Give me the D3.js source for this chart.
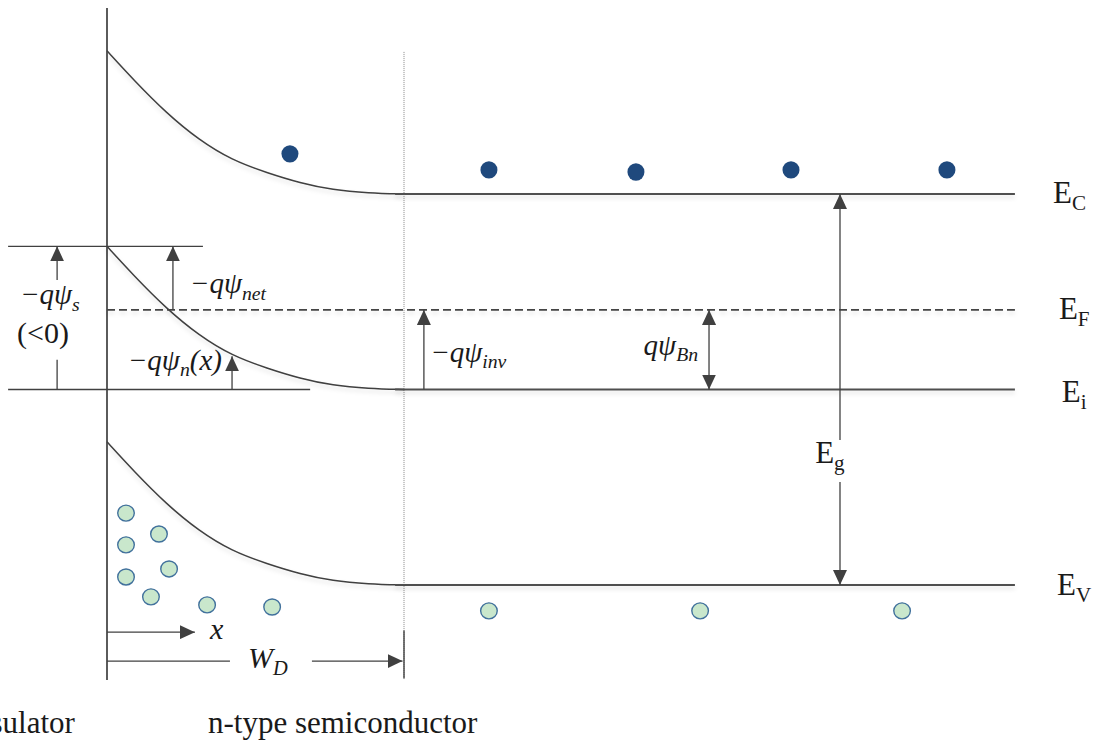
<!DOCTYPE html>
<html>
<head>
<meta charset="utf-8">
<script src="https://cdn.jsdelivr.net/npm/d3@7"></script>
<style>
  body { margin: 0; background: #fff; }
  svg { display: block; }
</style>
</head>
<body>
<script>
// energies in eV (Ev = 0), positions in units of the depletion width W_D (interface = 0)
var levelNames = ['E', 'E', 'E', 'E'],
    levelSubs = ['C', 'F', 'i', 'V'],
    levelEnergy = [1.12, 0.788, 0.56, 0],
    bending = 0.41

// band bending: depth vs fraction of the surface bending
var profileX = [0, 0.09, 0.2, 0.31, 0.42, 0.54, 0.65, 0.76, 0.88, 1.0],
    profileFrac = [1, 0.796, 0.565, 0.377, 0.237, 0.147, 0.077, 0.028, 0.007, 0]

var electronsX = [0.616, 1.286, 1.781, 2.303, 2.828],
    electronsE = [1.235, 1.189, 1.183, 1.189, 1.189]

var holesX = [0.064, 0.175, 0.064, 0.209, 0.064, 0.148, 0.337, 0.556, 1.286, 1.997, 2.677],
    holesE = [0.206, 0.146, 0.115, 0.046, 0.023, -0.034, -0.057, -0.063, -0.074, -0.074, -0.074]

var bulkEnd = 3.057,
    leftEnd = -0.333

var width = 1095, height = 742,
    ink = '#404040',
    font = "'Liberation Serif', 'Times New Roman', serif"

var x = d3.scaleLinear().domain([0, 1]).range([107, 404]),
    y = d3.scaleLinear().domain([0, 1.12]).range([585, 194])

var svg = d3.select('body').append('svg')
    .attr('width', width)
    .attr('height', height)

var defs = svg.append('defs')
defs.append('filter').attr('id', 'shadow')
    .attr('filterUnits', 'userSpaceOnUse')
    .attr('x', 0).attr('y', 0).attr('width', width).attr('height', height)
    .append('feDropShadow')
    .attr('dx', 0).attr('dy', 3).attr('stdDeviation', 2)
    .attr('flood-color', '#000').attr('flood-opacity', 0.13)

defs.append('marker').attr('id', 'head')
    .attr('viewBox', '0 0 15 14')
    .attr('refX', 15).attr('refY', 7)
    .attr('markerWidth', 15).attr('markerHeight', 14)
    .attr('markerUnits', 'userSpaceOnUse')
    .attr('orient', 'auto-start-reverse')
    .append('path').attr('d', 'M0,0L15,7L0,14Z').attr('fill', ink)

var line = d3.line().x(d => x(d[0])).y(d => y(d[1])).curve(d3.curveBasis)

// interface and depletion edge
svg.append('line')
    .attr('x1', x(0)).attr('x2', x(0))
    .attr('y1', y(1.653)).attr('y2', y(-0.272))
    .attr('stroke', '#333').attr('stroke-width', 1.6)

svg.append('line')
    .attr('x1', x(1)).attr('x2', x(1))
    .attr('y1', y(1.527)).attr('y2', y(-0.272))
    .attr('stroke', '#888').attr('stroke-width', 1).attr('stroke-dasharray', '1,1')

svg.append('line')
    .attr('x1', x(1)).attr('x2', x(1))
    .attr('y1', y(-0.13)).attr('y2', y(-0.267))
    .attr('stroke', ink).attr('stroke-width', 1.4)

// bent bands: Ec, Ei, Ev
;[0, 2, 3].forEach(function (i) {
    var pts = profileX.map((p, j) => [p, levelEnergy[i] + bending * profileFrac[j]])
    svg.append('path')
        .attr('d', line(pts))
        .attr('fill', 'none').attr('stroke', ink).attr('stroke-width', 1.5)
        .attr('filter', 'url(#shadow)')
    svg.append('line')
        .attr('x1', x(0.97)).attr('x2', x(bulkEnd))
        .attr('y1', y(levelEnergy[i])).attr('y2', y(levelEnergy[i]))
        .attr('stroke', '#505050').attr('stroke-width', 2.2)
        .attr('filter', 'url(#shadow)')
})

// Fermi level
svg.append('line')
    .attr('x1', x(0)).attr('x2', x(bulkEnd))
    .attr('y1', y(levelEnergy[1])).attr('y2', y(levelEnergy[1]))
    .attr('stroke', '#444').attr('stroke-width', 1.6).attr('stroke-dasharray', '8,4')
    .attr('filter', 'url(#shadow)')

// reference lines for surface potential
svg.append('line')
    .attr('x1', x(leftEnd)).attr('x2', x(0.323))
    .attr('y1', y(levelEnergy[2] + bending)).attr('y2', y(levelEnergy[2] + bending))
    .attr('stroke', ink).attr('stroke-width', 1.4)
svg.append('line')
    .attr('x1', x(leftEnd)).attr('x2', x(0.684))
    .attr('y1', y(levelEnergy[2])).attr('y2', y(levelEnergy[2]))
    .attr('stroke', ink).attr('stroke-width', 1.4)

// arrows: [x1, e1, x2, e2, heads]
var arrows = [
    [-0.168, 0.56, -0.168, 0.645, 0],
    [-0.168, 0.874, -0.168, 0.97, 1],
    [0.222, 0.788, 0.222, 0.97, 1],
    [0.421, 0.56, 0.421, 0.655, 1],
    [1.067, 0.56, 1.067, 0.788, 1],
    [2.027, 0.788, 2.027, 0.56, 2],
    [2.468, 0.415, 2.468, 1.12, 1],
    [2.468, 0.295, 2.468, 0, 1],
    [0, -0.135, 0.296, -0.135, 1],
    [0, -0.218, 0.414, -0.218, 0],
    [0.69, -0.218, 0.995, -0.218, 1]
]

arrows.forEach(function (a) {
    var l = svg.append('line')
        .attr('x1', x(a[0])).attr('y1', y(a[1]))
        .attr('x2', x(a[2])).attr('y2', y(a[3]))
        .attr('stroke', ink).attr('stroke-width', 1.3)
    if (a[4] >= 1) l.attr('marker-end', 'url(#head)')
    if (a[4] === 2) l.attr('marker-start', 'url(#head)')
})

// carriers
svg.selectAll('.electron').data(electronsX).enter().append('ellipse')
    .attr('class', 'electron')
    .attr('cx', d => x(d)).attr('cy', (d, i) => y(electronsE[i]))
    .attr('rx', 8.5).attr('ry', 8.7)
    .attr('fill', '#1f497d')

svg.selectAll('.hole').data(holesX).enter().append('ellipse')
    .attr('class', 'hole')
    .attr('cx', d => x(d)).attr('cy', (d, i) => y(holesE[i]))
    .attr('rx', 8.3).attr('ry', 8)
    .attr('fill', '#c9e7cc').attr('stroke', '#41719c').attr('stroke-width', 1.4)

// labels
function label(d) {
    var t = svg.append('text')
        .attr('x', x(d.u)).attr('y', y(d.e))
        .attr('text-anchor', d.anchor || 'start')
        .attr('font-family', font)
        .attr('font-size', d.size)
        .attr('font-style', d.italic ? 'italic' : 'normal')
        .attr('fill', '#1a1a1a')
    t.append('tspan').text(d.main)
    if (d.sub) t.append('tspan').attr('font-size', d.size * 0.68).attr('dy', d.size * 0.22).text(d.sub)
    if (d.after) t.append('tspan').attr('dy', -d.size * 0.22).text(d.after)
}

var levelLabelX = [3.185, 3.205, 3.215, 3.199],
    levelLabelDy = [-0.027, -0.027, -0.035, -0.028]

levelNames.forEach(function (n, i) {
    label({ main: n, sub: levelSubs[i], u: levelLabelX[i], e: levelEnergy[i] + levelLabelDy[i], size: 31 })
})

;[
    { main: '−qψ', sub: 's', u: -0.293, e: 0.804, italic: true, size: 29 },
    { main: '(<0)', u: -0.303, e: 0.693, size: 30 },
    { main: '−qψ', sub: 'net', u: 0.279, e: 0.836, italic: true, size: 29 },
    { main: '−qψ', sub: 'n', after: '(x)', u: 0.387, e: 0.616, italic: true, size: 29, anchor: 'end' },
    { main: '−qψ', sub: 'inv', u: 1.088, e: 0.639, italic: true, size: 29 },
    { main: 'qψ', sub: 'Bn', u: 1.99, e: 0.659, italic: true, size: 29, anchor: 'end' },
    { main: 'E', sub: 'g', u: 2.434, e: 0.349, size: 31, anchor: 'middle' },
    { main: 'x', u: 0.347, e: -0.155, italic: true, size: 30 },
    { main: 'W', sub: 'D', u: 0.475, e: -0.238, italic: true, size: 30 },
    { main: 'Insulator', u: -0.108, e: -0.424, size: 31, anchor: 'end' },
    { main: 'n-type semiconductor', u: 0.34, e: -0.424, size: 31 }
].forEach(label)
</script>
</body>
</html>
